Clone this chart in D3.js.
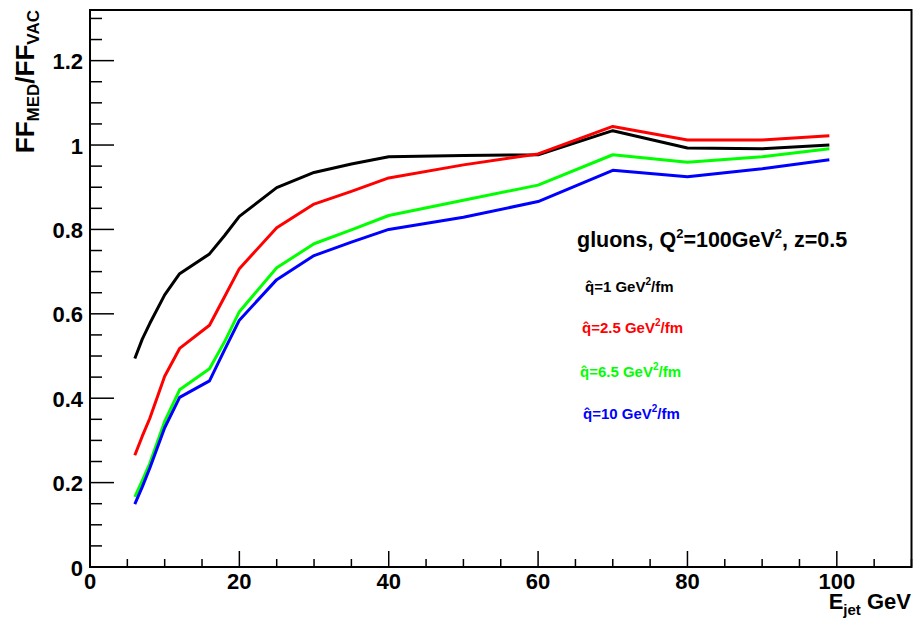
<!DOCTYPE html>
<html>
<head>
<meta charset="utf-8">
<script src="https://cdn.jsdelivr.net/npm/d3@7"></script>
<style>
  body { margin: 0; background: #fff; }
  svg { display: block; font-family: "Liberation Sans", Arial, sans-serif; font-weight: bold; }
</style>
</head>
<body>
<div id="chart"></div>
<script>
// E_jet values (GeV)
var energies = [6, 7, 8, 10, 12, 16, 18, 20, 25, 30, 35, 40, 50, 60, 70, 80, 90, 99];

// FF_MED / FF_VAC for each qhat
var qhat1   = [0.494, 0.540, 0.577, 0.645, 0.695, 0.742, 0.785, 0.831, 0.899, 0.935, 0.955, 0.972, 0.975, 0.977, 1.034, 0.993, 0.991, 1.000];
var qhat2_5 = [0.265, 0.310, 0.352, 0.452, 0.518, 0.573, 0.640, 0.707, 0.804, 0.860, 0.890, 0.922, 0.953, 0.979, 1.044, 1.012, 1.012, 1.022];
var qhat6_5 = [0.166, 0.205, 0.245, 0.345, 0.420, 0.470, 0.533, 0.605, 0.709, 0.766, 0.799, 0.833, 0.869, 0.905, 0.977, 0.959, 0.972, 0.991];
var qhat10  = [0.149, 0.190, 0.234, 0.330, 0.402, 0.441, 0.514, 0.585, 0.681, 0.738, 0.770, 0.800, 0.829, 0.866, 0.940, 0.925, 0.944, 0.965];

var seriesNames = ["1", "2.5", "6.5", "10"];
var seriesColors = ["#000000", "#ff0000", "#00ff00", "#0000ff"];
var seriesValues = [qhat1, qhat2_5, qhat6_5, qhat10];

var xMajorTicks = [0, 20, 40, 60, 80, 100];
var yMajorTicks = [0, 0.2, 0.4, 0.6, 0.8, 1, 1.2];

(function(){
var width = 918, height = 627;
var plotLeft = 90, plotRight = 911.5, plotTop = 10, plotBottom = 567;

var svg = d3.select("#chart")
    .append("svg")
    .attr("width", width)
    .attr("height", height);

var x = d3.scaleLinear().domain([0, 110]).range([plotLeft, plotRight]);
var y = d3.scaleLinear().domain([0, 1.32]).range([plotBottom, plotTop]);

// frame
svg.append("rect")
    .attr("x", plotLeft)
    .attr("y", plotTop)
    .attr("width", plotRight - plotLeft)
    .attr("height", plotBottom - plotTop)
    .attr("fill", "none")
    .attr("stroke", "#000")
    .attr("stroke-width", 2);

// x ticks: minor every 5, major every 20
svg.append("g").selectAll("line")
    .data(x.ticks(22))
    .enter()
    .append("line")
    .attr("x1", function(d){ return x(d); })
    .attr("x2", function(d){ return x(d); })
    .attr("y1", plotBottom)
    .attr("y2", function(d){ return plotBottom - (d % 20 === 0 ? 16 : 8); })
    .attr("stroke", "#000")
    .attr("stroke-width", 1.5);

svg.append("g").selectAll("text")
    .data(xMajorTicks)
    .enter()
    .append("text")
    .attr("x", function(d){ return x(d); })
    .attr("y", 589)
    .attr("text-anchor", "middle")
    .attr("font-size", 22)
    .text(function(d){ return d; });

// y ticks: minor every 0.05, major every 0.2
svg.append("g").selectAll("line")
    .data(d3.range(0, 27))
    .enter()
    .append("line")
    .attr("x1", plotLeft)
    .attr("x2", function(i){ return plotLeft + (i % 4 === 0 ? 24 : 12); })
    .attr("y1", function(i){ return y(i * 0.05); })
    .attr("y2", function(i){ return y(i * 0.05); })
    .attr("stroke", "#000")
    .attr("stroke-width", 1.5);

svg.append("g").selectAll("text")
    .data(yMajorTicks)
    .enter()
    .append("text")
    .attr("x", 83)
    .attr("y", function(d){ return y(d) + 8.5; })
    .attr("text-anchor", "end")
    .attr("font-size", 22)
    .text(function(d){ return d; });

// curves
var line = d3.line()
    .x(function(d){ return x(d[0]); })
    .y(function(d){ return y(d[1]); });

seriesValues.forEach(function(vals, i){
    svg.append("path")
        .datum(energies.map(function(e, j){ return [e, vals[j]]; }))
        .attr("d", line)
        .attr("fill", "none")
        .attr("stroke", seriesColors[i])
        .attr("stroke-width", 3)
        .attr("stroke-linejoin", "round");
});

// y title
var yt = svg.append("text")
    .attr("transform", "translate(34,10) rotate(-90)")
    .attr("text-anchor", "end")
    .attr("font-size", 26);
yt.append("tspan").text("FF");
yt.append("tspan").attr("font-size", 17).attr("dy", 5).text("MED");
yt.append("tspan").attr("dy", -5).text("/FF");
yt.append("tspan").attr("font-size", 17).attr("dy", 5).text("VAC");

// x title
var xt = svg.append("text")
    .attr("x", 911)
    .attr("y", 609)
    .attr("text-anchor", "end")
    .attr("font-size", 22);
xt.append("tspan").text("E");
xt.append("tspan").attr("font-size", 15).attr("dy", 6).text("jet");
xt.append("tspan").attr("dy", -6).text(" GeV");

// legend header
var lt = svg.append("text")
    .attr("x", 577)
    .attr("y", 247)
    .attr("font-size", 21.5);
lt.append("tspan").text("gluons, Q");
lt.append("tspan").attr("font-size", 13).attr("dy", -9).text("2");
lt.append("tspan").attr("dy", 9).text("=100GeV");
lt.append("tspan").attr("font-size", 13).attr("dy", -9).text("2");
lt.append("tspan").attr("dy", 9).text(", z=0.5");

var legendX = [585, 582, 580, 583];
var legendY = [292, 333, 377, 419];
seriesNames.forEach(function(name, i){
    var t = svg.append("text")
        .attr("x", legendX[i])
        .attr("y", legendY[i])
        .attr("font-size", 15)
        .attr("fill", seriesColors[i]);
    t.append("tspan").text("q\u0302=" + name + " GeV");
    t.append("tspan").attr("font-size", 10).attr("dy", -7).text("2");
    t.append("tspan").attr("dy", 7).text("/fm");
});
})();
</script>
</body>
</html>
